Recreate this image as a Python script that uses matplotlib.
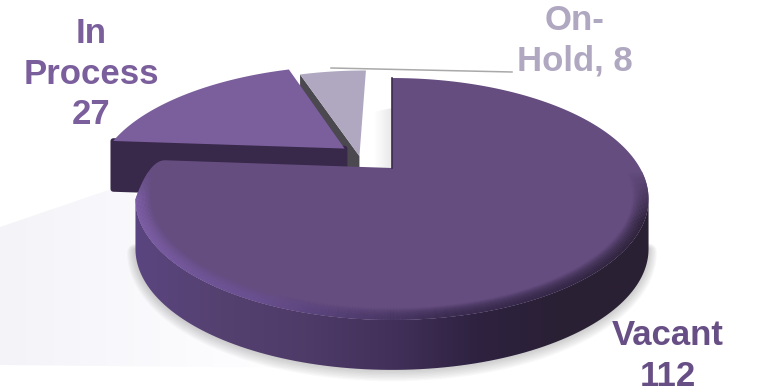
import matplotlib
matplotlib.use("Agg")
import matplotlib.pyplot as plt
import numpy as np
from matplotlib.collections import LineCollection
from matplotlib.colors import LinearSegmentedColormap, to_rgb
from matplotlib.patches import Polygon

categorias = ["Vacant", "In Process", "On-Hold"]
valores = [112, 27, 8]
etiquetas = ["Vacant\n112", "In\nProcess\n27", "On-\nHold, 8"]

# plano de la torta -> pixeles (proyeccion con perspectiva)
CX, CY = 392.0, 168.0
A, B, K = 248.0, 70.0, 0.256
ALTO = 50.0


def proyectar(u, v):
    w = 1 + K * v
    return CX + A * u / w, (CY + B * (-v)) / w


def arco(t0, t1, du=0.0, dv=0.0, r=1.0, n=200):
    t = np.radians(np.linspace(t0, t1, n))
    x, y = proyectar(r * np.sin(t) + du, r * np.cos(t) + dv)
    return np.column_stack([x, y])


def cara(t0, t1, du=0.0, dv=0.0):
    centro = np.array(proyectar(du, dv))
    return np.vstack([centro, arco(t0, t1, du, dv)])


def redondear_final(puntos, recorte=14, radio=16.0, n=20):
    # esquina redondeada entre el final del arco y el lado recto que vuelve al centro
    centro, esquina = puntos[0], puntos[-1]
    antes = puntos[-1 - recorte]
    hacia = centro - esquina
    despues = esquina + hacia / np.hypot(*hacia) * radio
    s = np.linspace(0, 1, n)[:, None]
    curva = (1 - s) ** 2 * antes + 2 * s * (1 - s) * esquina + s ** 2 * despues
    return np.vstack([puntos[:-1 - recorte], curva])


def pared(ax, puntos, colores, zorder):
    # relleno en degradado horizontal recortado al poligono
    cmap = LinearSegmentedColormap.from_list("pared", colores)
    x0, y0 = puntos.min(axis=0)
    x1, y1 = puntos.max(axis=0)
    img = ax.imshow(np.linspace(0, 1, 256)[None, :], cmap=cmap, extent=[x0, x1, y1, y0],
                    aspect="auto", zorder=zorder)
    img.set_clip_path(Polygon(puntos, transform=ax.transData))


fig = plt.figure(figsize=(7.59, 3.91), dpi=100)
ax = fig.add_axes([0, 0, 1, 1])
ax.axis("off")

angulos = np.cumsum([0] + valores) / sum(valores) * 360
ini_vac, fin_vac = angulos[0], angulos[1]
ini_pro, fin_pro = angulos[1], angulos[2]
ini_hold, fin_hold = angulos[2], angulos[3]

# piso claro a la izquierda
piso = np.array([[0, 227], [120, 186], [320, 300], [320, 368], [0, 365]])
pared(ax, piso, ["#f4f3f8", "#f8f7fb", "#fcfcfe", "#ffffff"], 1)

borde = arco(ini_vac, fin_vac)
i_der, i_izq = borde[:, 0].argmax(), borde[:, 0].argmin()
frente = borde[i_der:i_izq + 1]

# sombra difusa debajo de la torta
for d in np.linspace(10, 1, 8):
    sombra = frente + [0, ALTO + d * 0.3]
    ax.plot(sombra[:, 0], sombra[:, 1], color="#666666", alpha=0.045, lw=d * 1.2,
            solid_capstyle="round", zorder=2)

# sombra tenue en el hueco junto a la primera rebanada
hueco = np.array([[374, 112], [392, 108], [392, 168], [374, 168]])
pared(ax, hueco, ["#ffffff", "#f4f4f4", "#e8e8e8"], 2)

# On-Hold
du_hold, dv_hold = -0.135, 0.108
cara_hold = cara(ini_hold, fin_hold, du_hold, dv_hold)
p_centro, p_borde = cara_hold[0], cara_hold[1]
ax.add_patch(Polygon([p_centro, p_borde, p_borde + [0, ALTO], p_centro + [0, ALTO]],
                     color="#4b4850", lw=0, zorder=3))
ax.add_patch(Polygon(cara_hold, color="#b0a7c1", lw=0, zorder=4))

# In Process
du_pro, dv_pro = -0.2, 0.18
cara_pro = cara(ini_pro, fin_pro, du_pro, dv_pro)
p_centro, p_borde = cara_pro[0], cara_pro[1]
ax.add_patch(Polygon([p_centro, p_borde, p_borde + [0, ALTO - 2], p_centro + [0, ALTO - 2]],
                     facecolor="#38284a", edgecolor="#38284a", lw=4, joinstyle="round", zorder=5))
ax.add_patch(Polygon(cara_pro, color="#7b5e9c", lw=0, zorder=6))

# Vacant: pared frontal y cara superior
pared_vac = np.vstack([frente, (frente + [0, ALTO])[::-1]])
pared(ax, pared_vac, ["#5b4580", "#554170", "#4e3b68", "#42305a", "#2e2240", "#2a2034", "#2a2034"], 7)
cara_vac = redondear_final(cara(ini_vac, fin_vac))
parche_vac = Polygon(cara_vac, color="#654d80", lw=0, zorder=8)
ax.add_patch(parche_vac)
ax.plot(*cara_vac[:2].T, color="#3a2a4c", lw=1.2, zorder=9)

# brillo del canto, oscuro a la derecha y claro a la izquierda
t_canto = np.linspace(92, 268, 300)
rgb = np.array([to_rgb(c) for c in ["#654d80", "#2a2035", "#3a2b50", "#6a5092", "#7f60aa", "#7f60aa", "#654d80"]])
t_ref = [92, 115, 170, 205, 240, 255, 268]
col = np.column_stack([np.interp(t_canto, t_ref, rgb[:, i]) for i in range(3)])
for r, alfa in zip(np.linspace(1.0, 0.945, 12), np.linspace(0.9, 0.05, 12)):
    pts = arco(t_canto[0], t_canto[-1], r=r, n=len(t_canto))
    seg = np.stack([pts[:-1], pts[1:]], axis=1)
    canto = LineCollection(seg, colors=np.column_stack([col[:-1], np.full(len(seg), alfa)]),
                           linewidths=1.6, zorder=9)
    ax.add_collection(canto)
    canto.set_clip_path(parche_vac)

# linea guia de On-Hold
ax.plot([331, 512], [68, 72], color="#a9a9a9", lw=1.1, zorder=10)

fuente = dict(family="Liberation Sans", weight="bold", fontsize=25, ha="center",
              va="center", linespacing=1.27, zorder=11)
ax.text(668, 356, etiquetas[0], color="#674f85", **fuente)
ax.text(91, 74, etiquetas[1], color="#7b5e9c", **fuente)
ax.text(575, 41, etiquetas[2], color="#b0a7c1", **fuente)

ax.set_xlim(0, 759)
ax.set_ylim(391, 0)
fig.savefig("out.png", dpi=100)
